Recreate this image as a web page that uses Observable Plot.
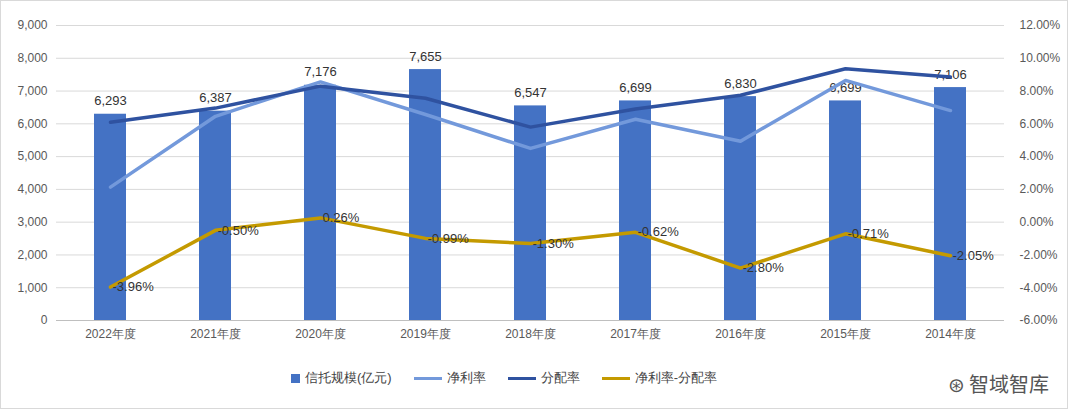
<!DOCTYPE html>
<html><head><meta charset="utf-8">
<script src="https://cdn.jsdelivr.net/npm/d3@7"></script>
<script src="https://cdn.jsdelivr.net/npm/@observablehq/plot@0.6"></script>
<style>
body{margin:0;background:#fff;font-family:"Liberation Sans Narrow","Liberation Sans",Arial,sans-serif;}
#wrap{width:1066px;height:407px;border:1px solid #d9d9d9;position:relative;}
#legend{display:flex;justify-content:center;gap:22px;font-size:13px;color:#444;margin-top:18px;padding-right:60px}
#legend span{display:inline-flex;align-items:center;gap:5px}
#wm{position:absolute;right:18px;bottom:10px;font-size:20px;color:#555;font-family:"Noto Sans CJK SC"}
</style></head><body>
<div id="wrap"><div id="chart"></div><div id="legend"></div><div id="wm">⊛ 智域智库</div></div>
<script>
const years=["2022年度","2021年度","2020年度","2019年度","2018年度","2017年度","2016年度","2015年度","2014年度"];
const scale=[6293,6387,7176,7655,6547,6699,6830,6699,7106];
const netRate=[2.14,6.46,8.56,6.57,4.50,6.28,4.94,8.65,6.81];
const distRate=[6.10,6.96,8.30,7.56,5.80,6.90,7.74,9.36,8.86];
const diff=[-3.96,-0.50,0.26,-0.99,-1.30,-0.62,-2.80,-0.71,-2.05];
const leftTicks=d3.range(0,9001,1000);
const rightTicks=d3.range(-6,12.01,2);
const toLeft=r=>3000+r*500;
const C={bar:"#4472C4",net:"#7399DB",dist:"#2F52A0",diff:"#C49A00"};
const rows=years.map((y,i)=>({y,s:scale[i],n:toLeft(netRate[i]),d:toLeft(distRate[i]),f:toLeft(diff[i]),fl:diff[i].toFixed(2)+"%"}));
const fmt=d3.format(",");
const chart=Plot.plot({
 width:1066,height:350,marginLeft:55,marginRight:63,marginTop:24,marginBottom:31,
 style:{fontFamily:'"Liberation Sans Narrow","Liberation Sans",Arial,sans-serif',fontSize:"12px",color:"#595959"},
 x:{domain:years,paddingInner:0.7,paddingOuter:0.35,label:null},
 y:{domain:[0,9000],label:null},
 marks:[
  Plot.gridY(leftTicks,{stroke:"#d9d9d9",strokeOpacity:1}),
  Plot.ruleY([0],{stroke:"#bfbfbf"}),
  Plot.barY(rows,{x:"y",y:"s",fill:C.bar}),
  Plot.text(rows,{x:"y",y:"s",text:d=>fmt(d.s),dy:-13,fontSize:13,fill:"#333"}),
  Plot.line(rows,{x:"y",y:"n",stroke:C.net,strokeWidth:3.5}),
  Plot.line(rows,{x:"y",y:"d",stroke:C.dist,strokeWidth:3.5}),
  Plot.line(rows,{x:"y",y:"f",stroke:C.diff,strokeWidth:3.5}),
  Plot.text(rows,{x:"y",y:"f",text:"fl",textAnchor:"start",dx:2,fontSize:13,fill:"#333"}),
  Plot.axisX({tickSize:0,fontSize:12}),
  Plot.axisY(leftTicks,{anchor:"left",tickSize:0,tickFormat:fmt,fontSize:12}),
  Plot.axisY(rightTicks.map(toLeft),{anchor:"right",tickSize:0,tickFormat:v=>((v-3000)/500).toFixed(2)+"%",fontSize:12,dx:6})
 ]
});
document.getElementById("chart").appendChild(chart);
const items=[["信托规模(亿元)",C.bar,"bar"],["净利率",C.net],["分配率",C.dist],["净利率-分配率",C.diff]];
document.getElementById("legend").innerHTML=items.map(([t,c,k])=>k?`<span><i style="display:inline-block;width:9px;height:9px;background:${c}"></i>${t}</span>`:`<span><i style="display:inline-block;width:28px;height:3px;background:${c}"></i>${t}</span>`).join("");
</script></body></html>
